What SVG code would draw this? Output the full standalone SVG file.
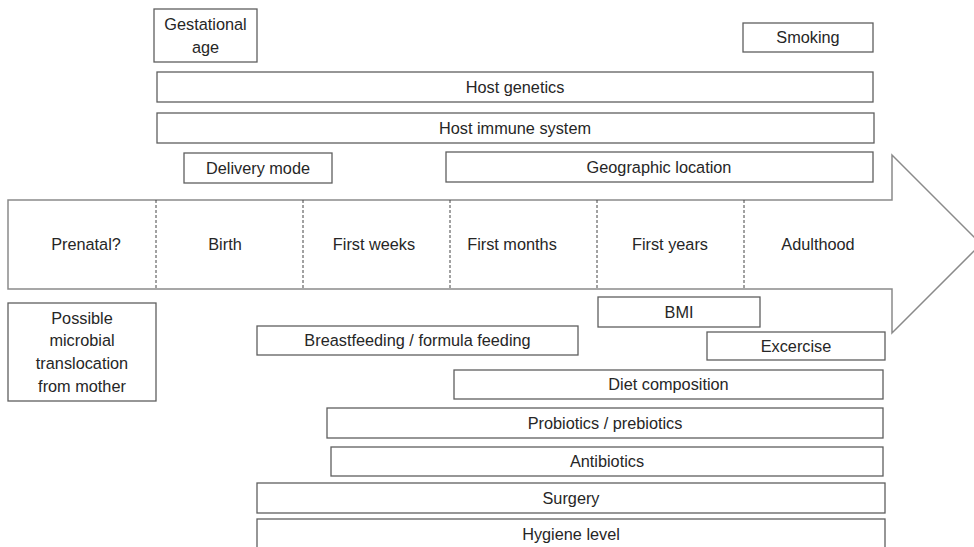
<svg xmlns="http://www.w3.org/2000/svg" width="974" height="547" viewBox="0 0 974 547">
  <style>
    .box { fill: #ffffff; stroke: #5f5f5f; stroke-width: 1.3; }
    .arrow { fill: #ffffff; stroke: #8a8a8a; stroke-width: 1.5; stroke-linejoin: miter; }
    .sep { stroke: #444444; stroke-width: 1; stroke-dasharray: 3 2; }
    text { font-family: "Liberation Sans", Arial, sans-serif; font-size: 16.3px; fill: #262626; text-anchor: middle; }
  </style>
  <rect width="974" height="547" fill="#ffffff"/>

  <g id="timeline">
    <polygon class="arrow" points="8,200 892,200 892,155 981,244 892,333 892,289 8,289"/>
    <g id="connectors">
      <line class="sep" x1="156" y1="200" x2="156" y2="289"/>
      <line class="sep" x1="303" y1="200" x2="303" y2="289"/>
      <line class="sep" x1="450" y1="200" x2="450" y2="289"/>
      <line class="sep" x1="597" y1="200" x2="597" y2="289"/>
      <line class="sep" x1="744" y1="200" x2="744" y2="289"/>
    </g>
    <text x="86" y="250">Prenatal?</text>
    <text x="225" y="250">Birth</text>
    <text x="374" y="250">First weeks</text>
    <text x="512" y="250">First months</text>
    <text x="670" y="250">First years</text>
    <text x="818" y="250">Adulthood</text>
  </g>

  <g id="gestational-age">
    <rect class="box" x="154" y="9" width="103" height="53"/>
    <text x="205.5" y="30">Gestational</text>
    <text x="205.5" y="53">age</text>
  </g>
  <g id="smoking">
    <rect class="box" x="743" y="23" width="130" height="29"/>
    <text x="808" y="43">Smoking</text>
  </g>
  <g id="host-genetics">
    <rect class="box" x="157" y="72" width="716" height="30"/>
    <text x="515" y="93">Host genetics</text>
  </g>
  <g id="host-immune-system">
    <rect class="box" x="157" y="113" width="717" height="30"/>
    <text x="515" y="134">Host immune system</text>
  </g>
  <g id="delivery-mode">
    <rect class="box" x="184" y="153" width="148" height="30"/>
    <text x="258" y="174">Delivery mode</text>
  </g>
  <g id="geographic-location">
    <rect class="box" x="446" y="152" width="427" height="30"/>
    <text x="659" y="173">Geographic location</text>
  </g>

  <g id="microbial-translocation">
    <rect class="box" x="8" y="303" width="148" height="98"/>
    <text x="82" y="324">Possible</text>
    <text x="82" y="346">microbial</text>
    <text x="82" y="369">translocation</text>
    <text x="82" y="392">from mother</text>
  </g>
  <g id="bmi">
    <rect class="box" x="598" y="297" width="162" height="30"/>
    <text x="679" y="318">BMI</text>
  </g>
  <g id="breastfeeding">
    <rect class="box" x="257" y="326" width="321" height="29"/>
    <text x="417.5" y="346">Breastfeeding / formula feeding</text>
  </g>
  <g id="excercise">
    <rect class="box" x="707" y="332" width="178" height="28"/>
    <text x="796" y="352">Excercise</text>
  </g>
  <g id="diet-composition">
    <rect class="box" x="454" y="370" width="429" height="29"/>
    <text x="668.5" y="390">Diet composition</text>
  </g>
  <g id="probiotics">
    <rect class="box" x="327" y="408" width="556" height="30"/>
    <text x="605" y="429">Probiotics / prebiotics</text>
  </g>
  <g id="antibiotics">
    <rect class="box" x="331" y="447" width="552" height="29"/>
    <text x="607" y="467">Antibiotics</text>
  </g>
  <g id="surgery">
    <rect class="box" x="257" y="483" width="628" height="30"/>
    <text x="571" y="504">Surgery</text>
  </g>
  <g id="hygiene-level">
    <rect class="box" x="257" y="519" width="628" height="30"/>
    <text x="571" y="540">Hygiene level</text>
  </g>
</svg>
